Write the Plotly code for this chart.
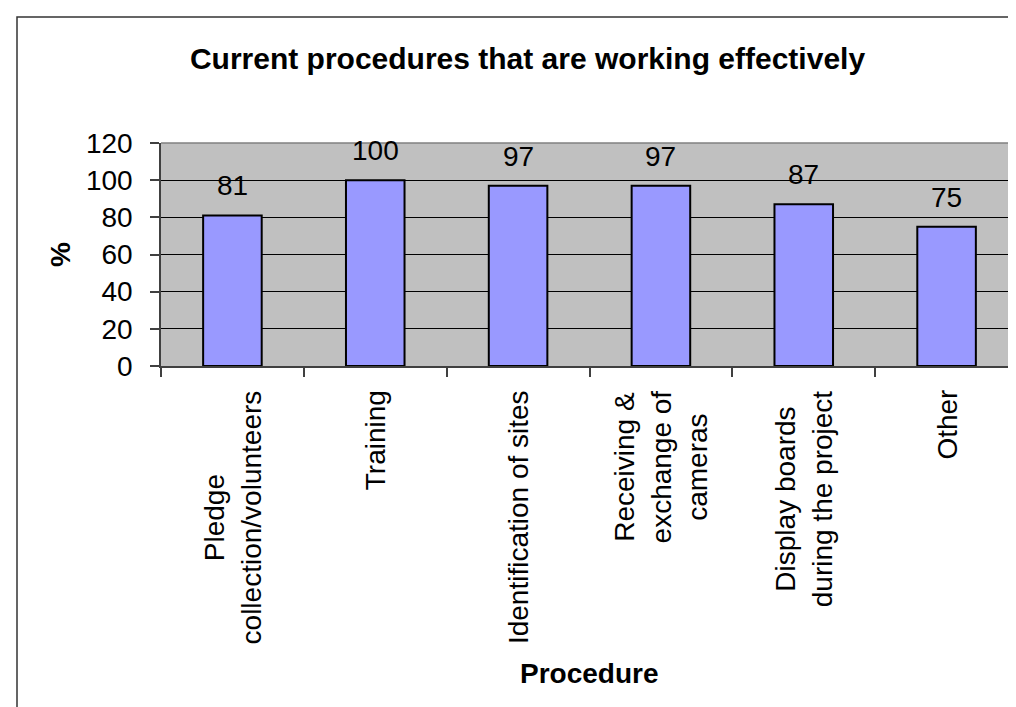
import plotly.graph_objects as go

# ---- data ----
categories = ["Pledge collection/volunteers", "Training", "Identification of sites",
              "Receiving & exchange of cameras", "Display boards during the project", "Other"]
tick_labels = ["Pledge<br>collection/volunteers", "Training", "Identification of sites",
               "Receiving &<br>exchange of<br>cameras", "Display boards<br>during the project", "Other"]
values = [81, 100, 97, 97, 87, 75]
y_ticks = [0, 20, 40, 60, 80, 100, 120]
title_text = "Current procedures that are working effectively"
x_title = "Procedure"
y_title = "%"

# ---- layout geometry ----
W, H = 1016, 707
L, R, T, B = 153, 6, 135, 349
pw, ph = W - L - R, H - T - B
FONT = "Liberation Sans, Arial, sans-serif"
AX = "#404040"

fig = go.Figure(go.Bar(
    x=categories, y=values, width=0.41,
    marker=dict(color="#9999FF", line=dict(color="black", width=2)),
    hoverinfo="x+y",
))

annotations = []
for cat, lab in zip(categories, tick_labels):
    annotations.append(dict(x=cat, y=0, xref="x", yref="paper", xanchor="center", yanchor="top",
                            yshift=-22, textangle=-90, text=lab, align="center", showarrow=False,
                            font=dict(size=28, color="black", family=FONT)))
for cat, v in zip(categories, values):
    annotations.append(dict(x=cat, y=v, xref="x", yref="y", xanchor="center", yanchor="bottom",
                            yshift=12, text=str(v), showarrow=False,
                            font=dict(size=28, color="black", family=FONT)))
annotations.append(dict(x=(52.5 - L) / pw, y=0.5, xref="paper", yref="paper", xanchor="center",
                        yanchor="middle", textangle=-90, text="<b>" + y_title + "</b>", showarrow=False,
                        font=dict(size=28, color="black", family=FONT)))
annotations.append(dict(x=0.5, y=-(665 - (T + ph)) / ph, xref="paper", yref="paper", xanchor="center",
                        yanchor="middle", text="<b>" + x_title + "</b>", showarrow=False,
                        font=dict(size=28, color="black", family=FONT)))

shapes = [
    # outer chart frame (extends past right/bottom of the image)
    dict(type="rect", xref="paper", yref="paper", x0=(9 - L) / pw, x1=(W + 12 - L) / pw,
         y0=-(B + 12) / ph, y1=1 + (T - 9) / ph, line=dict(color="#333333", width=1.5),
         fillcolor="rgba(0,0,0,0)", layer="above"),
    # top and right plot-area border in gray
    dict(type="line", xref="paper", yref="paper", x0=0, x1=1, y0=1, y1=1,
         line=dict(color="#808080", width=1.5), layer="above"),
    dict(type="line", xref="paper", yref="paper", x0=1, x1=1, y0=0, y1=1,
         line=dict(color="#808080", width=1.5), layer="above"),
]

fig.update_layout(
    width=W, height=H,
    margin=dict(l=L, r=R, t=T, b=B, autoexpand=False),
    paper_bgcolor="white", plot_bgcolor="#C0C0C0",
    font=dict(family=FONT, size=28, color="black"),
    title=dict(text="<b>" + title_text + "</b>", x=519.5 / W, xanchor="center",
               y=1 - 50 / H, yanchor="middle", font=dict(size=30, color="black", family=FONT)),
    showlegend=False,
    annotations=annotations,
    shapes=shapes,
    xaxis=dict(type="category", range=[-0.5, len(categories) - 0.5], showline=True, linecolor=AX,
               linewidth=1.5, ticks="outside", ticklen=9, tickcolor=AX, tickwidth=1.5,
               tickson="boundaries", showticklabels=False, showgrid=False, zeroline=False),
    yaxis=dict(range=[0, 120], tickvals=y_ticks, showline=True, linecolor=AX, linewidth=1.5,
               ticks="outside", ticklen=9, tickcolor=AX, tickwidth=1.5, showgrid=True,
               gridcolor="black", gridwidth=1, zeroline=False, ticklabelstandoff=12,
               tickfont=dict(size=28, color="black", family=FONT)),
)

fig.write_html("out.html")
